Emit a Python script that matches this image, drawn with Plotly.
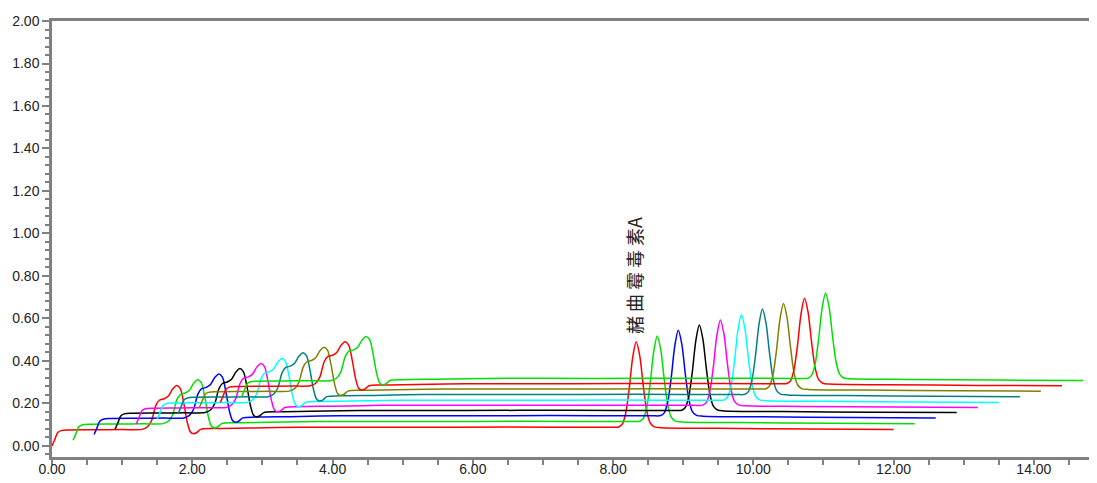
import plotly.graph_objects as go

# Reference chromatogram profile (trace 1), time (min) and signal
tmpl_time = [0.00, 0.04, 0.08, 0.13, 0.25, 0.60, 1.00, 1.28, 1.36, 1.42, 1.48, 1.53, 1.60,
             1.66, 1.72, 1.78, 1.83, 1.88, 1.93, 1.97, 2.01, 2.06, 2.12, 2.30, 2.80, 3.50,
             5.00, 6.50, 7.95, 8.08, 8.13, 8.18, 8.23, 8.28, 8.33, 8.38, 8.43, 8.48, 8.53,
             8.59, 8.68, 9.50, 10.80, 12.00]
tmpl_signal = [0.000, 0.030, 0.062, 0.072, 0.075, 0.076, 0.077, 0.078, 0.090, 0.120, 0.190,
               0.215, 0.222, 0.235, 0.268, 0.285, 0.270, 0.200, 0.110, 0.068, 0.058, 0.062,
               0.078, 0.082, 0.084, 0.088, 0.088, 0.089, 0.088, 0.089, 0.102, 0.154, 0.270,
               0.417, 0.490, 0.425, 0.285, 0.165, 0.108, 0.090, 0.086, 0.083, 0.080, 0.078]

# Per-injection display offsets
time_offsets = [0.0, 0.3, 0.6, 0.9, 1.2, 1.5, 1.8, 2.1, 2.4, 2.7]
signal_offsets = [0.0, 0.027, 0.054, 0.079, 0.103, 0.127, 0.154, 0.180, 0.205, 0.230]
colors = ["#ff0000", "#00e000", "#0000ff", "#000000", "#ff00ff",
          "#00ffff", "#008080", "#808000", "#ff0000", "#00e000"]

x_ticks = [0, 2, 4, 6, 8, 10, 12, 14]
y_ticks = [0.0, 0.2, 0.4, 0.6, 0.8, 1.0, 1.2, 1.4, 1.6, 1.8, 2.0]
peak_label = "赭 曲 霉 毒 素A"
peak_label_pos = (8.30, 0.80)

fig = go.Figure()
for dx, dy, c in zip(time_offsets, signal_offsets, colors):
    fig.add_trace(go.Scatter(
        x=[t + dx for t in tmpl_time],
        y=[s + dy for s in tmpl_signal],
        mode="lines",
        line=dict(color=c, width=1.5, shape="spline", smoothing=0.8),
        showlegend=False,
        hoverinfo="skip",
    ))

fig.add_annotation(
    x=peak_label_pos[0], y=peak_label_pos[1], text=peak_label, textangle=-90,
    showarrow=False, font=dict(family="Noto Sans CJK SC", size=18, color="#222222"),
)

axis_font = dict(family="Liberation Sans", size=14, color="#222222")
fig.update_layout(
    width=1089, height=475,
    margin=dict(l=44, r=0, t=13, b=26),
    paper_bgcolor="white", plot_bgcolor="white",
    font=axis_font,
    xaxis=dict(
        range=[0, 14.9], tickvals=x_ticks, tickformat=".2f", automargin=False,
        showgrid=False, zeroline=False,
        showline=True, linecolor="#808080", linewidth=2.5, mirror=True,
        ticks="outside", ticklen=5, tickcolor="#808080", tickwidth=1.5,
        minor=dict(dtick=0.5, ticks="outside", ticklen=5, tickcolor="#808080", tickwidth=1.5),
        tickfont=axis_font, ticklabelstandoff=-8,
    ),
    yaxis=dict(
        range=[-0.052, 2.0], tickvals=y_ticks, tickformat=".2f", automargin=False,
        showgrid=False, zeroline=False,
        showline=True, linecolor="#808080", linewidth=2.5,
        ticks="outside", ticklen=7, tickcolor="#808080", tickwidth=1.5,
        minor=dict(dtick=0.04, ticks="outside", ticklen=4, tickcolor="#808080", tickwidth=1.5),
        tickfont=axis_font,
    ),
)

fig.write_html("out.html")
